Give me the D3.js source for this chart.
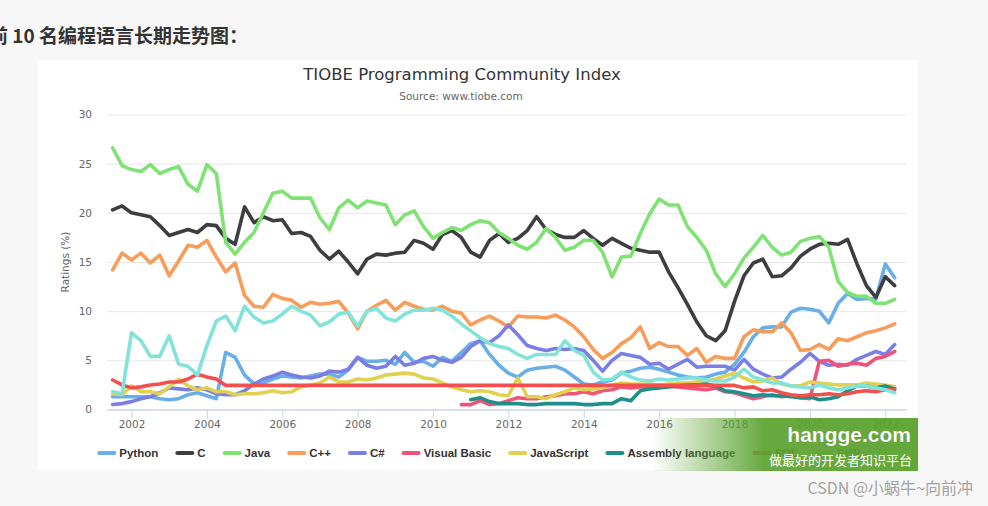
<!DOCTYPE html>
<html lang="zh">
<head>
<meta charset="UTF-8">
<title>TIOBE Programming Community Index</title>
<script src="https://d3js.org/d3.v7.min.js"></script>
<style>
    body { margin: 0; background: #f7f7f7; }
    svg { display: block; }
</style>
</head>
<body>
<script>

// one sample per quarter, from July 2001 up to April 2022
var firstQuarter = 2001.5;
var quarterStep = 0.25;

var languages = ["Python", "C", "Java", "C++", "C#", "Visual Basic",
                 "JavaScript", "Assembly language", "SQL", "PHP"];
var colors = ["#68aee8", "#3d3d42", "#7fe373", "#f89c5a", "#7a7fe6", "#f0537a",
              "#e2d050", "#1f8f8a", "#f24f4f", "#82e3da"];

var python = [1.3, 1.3,
    1.3, 1.3, 1.3, 1.1,  1.0, 1.1, 1.5, 1.7,  1.4, 1.1, 5.8, 5.3,  3.5, 2.6, 2.7, 3.1,
    3.4, 3.3, 3.2, 3.4,  3.6, 3.6, 3.3, 4.0,  5.3, 4.9, 4.9, 5.0,  4.6, 5.8, 4.8, 4.9,
    4.4, 5.3, 4.9, 5.8,  6.7, 7.0, 5.6, 4.5,  3.7, 3.3, 4.0, 4.2,  4.3, 4.4, 4.0, 3.3,
    2.6, 2.5, 2.8, 3.0,  3.7, 3.9, 4.2, 4.3,  4.1, 3.8, 3.5, 3.3,  3.2, 3.3, 3.6, 3.8,
    4.6, 5.8, 7.4, 8.3,  8.4, 8.4, 9.9, 10.3, 10.2, 10.0, 8.8, 10.8, 11.8, 11.2, 11.3, 11.2,
    14.8, 13.4];

var cLang = [20.3, 20.7,
    20.0, 19.8, 19.6, 18.7,  17.7, 18.0, 18.3, 18.0,  18.8, 18.7, 17.4, 16.8,  20.6, 19.0, 19.6, 19.2,
    19.3, 17.9, 18.0, 17.6,  16.2, 15.3, 16.1, 15.0,  13.8, 15.3, 15.8, 15.7,  15.9, 16.0, 17.2, 16.9,
    16.3, 17.8, 18.2, 17.5,  16.0, 15.5, 17.2, 17.9,  17.0, 17.4, 18.2, 19.6,  18.3, 17.8, 17.5, 17.5,
    18.2, 17.4, 16.7, 17.4,  16.9, 16.4, 16.2, 16.0,  16.0, 14.0, 12.4, 10.7,  8.9, 7.5, 7.0, 8.0,
    11.0, 13.6, 14.9, 15.3,  13.5, 13.6, 14.4, 15.6,  16.3, 16.8, 16.9, 16.8,  17.3, 14.8, 12.6, 11.4,
    13.5, 12.6];

var java = [26.6, 24.8,
    24.4, 24.2, 24.9, 24.0,  24.4, 24.7, 22.9, 22.2,  24.9, 24.0, 17.0, 15.8,  17.0, 18.0, 20.0, 22.0,
    22.2, 21.5, 21.5, 21.5,  19.5, 18.3, 20.5, 21.3,  20.5, 21.2, 21.0, 20.8,  18.8, 19.8, 20.2, 18.6,
    17.4, 18.0, 18.5, 18.2,  18.8, 19.2, 19.0, 18.0,  17.4, 16.7, 16.3, 17.0,  18.4, 17.5, 16.2, 16.5,
    17.2, 17.2, 16.0, 13.5,  15.5, 15.6, 17.9, 19.9,  21.4, 20.8, 20.8, 18.6,  17.5, 16.2, 13.8, 12.5,
    13.8, 15.4, 16.5, 17.7,  16.5, 15.7, 16.0, 17.1,  17.4, 17.6, 16.5, 13.0,  11.9, 11.5, 11.5, 10.8,
    10.8, 11.2];

var cpp = [14.2, 15.9,
    15.2, 15.9, 14.9, 15.7,  13.6, 15.1, 16.7, 16.5,  17.2, 15.5, 14.0, 14.9,  11.6, 10.5, 10.4, 11.7,
    11.3, 11.1, 10.4, 10.9,  10.7, 10.8, 11.0, 9.8,  8.2, 10.0, 10.6, 11.1,  10.1, 10.9, 10.5, 10.2,
    10.1, 10.5, 10.0, 9.8,  8.6, 9.1, 9.5, 9.0,  8.4, 9.5, 9.4, 9.4,  9.3, 9.6, 9.1, 8.4,
    7.4, 6.1, 5.2, 5.8,  6.7, 7.3, 8.4, 6.2,  6.8, 6.4, 6.4, 5.5,  6.2, 4.8, 5.4, 5.2,
    5.2, 7.4, 8.1, 7.9,  7.9, 8.8, 7.8, 6.0,  6.1, 6.6, 6.1, 7.2,  7.0, 7.4, 7.8, 8.0,
    8.3, 8.7];

var csharp = [0.5, 0.6,
    0.8, 1.1, 1.3, 1.7,  2.2, 2.1, 2.0, 2.2,  2.0, 1.6, 1.5, 1.5,  1.9, 2.6, 3.1, 3.4,
    3.8, 3.5, 3.3, 3.2,  3.4, 3.9, 3.8, 4.1,  5.3, 4.5, 4.2, 4.4,  5.4, 4.5, 4.7, 5.2,
    5.4, 5.0, 4.8, 5.3,  6.4, 7.0, 6.8, 7.5,  8.6, 7.6, 6.5, 6.2,  6.0, 6.2, 6.1, 6.2,
    6.0, 5.0, 3.9, 5.0,  5.7, 5.5, 5.3, 4.6,  4.7, 4.1, 4.6, 5.1,  4.3, 4.4, 4.4, 4.4,
    4.0, 5.1, 4.1, 3.6,  3.2, 3.3, 4.1, 4.8,  5.7, 4.9, 4.5, 4.6,  4.5, 5.1, 5.5, 5.9,
    5.6, 6.6];

var visualBasic = [null, null,
    null, null, null, null,  null, null, null, null,  null, null, null, null,  null, null, null, null,
    null, null, null, null,  null, null, null, null,  null, null, null, null,  null, null, null, null,
    null, null, null, 0.5,  0.5, 0.9, 0.5, 0.6,  0.9, 1.2, 1.1, 1.1,  1.3, 1.4, 1.6, 1.6,
    1.8, 1.6, 1.9, 2.0,  2.3, 2.2, 2.3, 2.3,  2.5, 2.4, 2.3, 2.2,  2.1, 2.0, 2.2, 1.8,
    1.7, 1.4, 1.1, 1.3,  1.5, 1.3, 1.4, 1.2,  1.1, 4.9, 5.0, 4.4,  4.6, 4.7, 4.5, 5.2,
    5.4, 5.9];

var javascript = [1.6, 1.5,
    2.4, 1.8, 1.8, 1.6,  2.3, 3.1, 2.4, 2.0,  2.2, 1.8, 1.8, 1.5,  1.6, 1.6, 1.7, 1.9,
    1.7, 1.8, 2.3, 2.5,  2.7, 3.3, 2.8, 2.8,  3.1, 3.0, 3.2, 3.5,  3.6, 3.7, 3.6, 3.2,
    3.1, 2.7, 2.3, 2.0,  1.8, 1.9, 1.8, 1.5,  1.4, 3.2, 1.3, 1.3,  1.1, 1.5, 1.8, 2.2,
    2.0, 2.1, 2.2, 2.5,  2.7, 2.6, 2.6, 2.6,  2.5, 2.6, 2.7, 2.7,  2.8, 2.9, 3.1, 3.4,
    3.7, 3.2, 2.8, 2.9,  3.2, 2.6, 2.4, 2.4,  2.8, 2.7, 2.6, 2.5,  2.5, 2.5, 2.7, 2.6,
    2.5, 2.3];

var assembly = [null, null,
    null, null, null, null,  null, null, null, null,  null, null, null, null,  null, null, null, null,
    null, null, null, null,  null, null, null, null,  null, null, null, null,  null, null, null, null,
    null, null, null, null,  1.0, 1.2, 0.8, 0.6,  0.6, 0.6, 0.5, 0.5,  0.6, 0.6, 0.6, 0.6,
    0.5, 0.5, 0.6, 0.6,  1.1, 0.9, 1.9, 2.1,  2.2, 2.3, 2.4, 2.5,  2.5, 2.6, 2.4, 1.9,
    1.8, 1.6, 1.4, 1.5,  1.4, 1.4, 1.3, 1.2,  1.3, 1.0, 1.1, 1.3,  1.9, 2.4, 2.4, 2.2,
    2.4, 2.1];

var sql = [3.0, 2.5,
    2.2, 2.3, 2.5, 2.6,  2.8, 2.8, 3.1, 3.6,  3.3, 3.1, 2.45, null,  null, null, null, null,
    null, null, null, null,  null, null, null, null,  null, null, null, null,  null, null, null, null,
    null, null, null, null,  null, null, null, null,  null, null, null, null,  null, null, null, null,
    null, null, null, null,  null, null, null, null,  null, null, null, null,  null, null, null, null,
    2.45, 2.2, 2.3, 1.9,  2.0, 1.7, 1.5, 1.4,  1.5, 1.5, 1.6, 1.5,  1.6, 1.8, 1.9, 1.8,
    2.0, 2.0];

var php = [1.8, 1.6,
    7.8, 7.0, 5.4, 5.4,  7.5, 4.6, 4.4, 3.5,  6.5, 9.0, 9.5, 8.0,  10.5, 9.4, 8.8, 9.0,
    9.7, 10.5, 10.0, 9.6,  8.5, 8.9, 9.7, 9.9,  8.5, 10.0, 10.3, 9.3,  9.0, 9.7, 10.1, 10.1,
    10.3, 10.1, 9.5, 8.7,  8.0, 7.3, 6.7, 6.4,  6.2, 5.6, 5.2, 5.6,  5.6, 5.6, 7.0, 6.0,
    5.5, 3.8, 3.0, 3.1,  3.8, 3.3, 3.0, 2.9,  3.1, 3.0, 3.1, 3.2,  3.2, 3.0, 2.9, 2.9,
    3.3, 4.1, 3.3, 3.0,  2.7, 2.7, 2.4, 2.3,  2.2, 2.5, 2.2, 2.0,  2.2, 2.4, 2.4, 2.2,
    2.0, 1.7];

var seriesValues = [python, cLang, java, cpp, csharp, visualBasic, javascript, assembly, sql, php];

var yTicks = [0, 5, 10, 15, 20, 25, 30];
var xTicks = [2002, 2004, 2006, 2008, 2010, 2012, 2014, 2016, 2018, 2020, 2022];

//Width and height
var w = 988;
var h = 506;
var chartFont = "'Lucida Grande', 'DejaVu Sans', sans-serif";
var legendFont = "'Liberation Sans', Arial, sans-serif";
var cjkFont = "'Noto Sans CJK SC', sans-serif";

var svg = d3.select("body")
    .append("svg")
    .attr("width", w)
    .attr("height", h);

// page heading, its first character is cut by the left edge
svg.append("text")
    .attr("x", -11)
    .attr("y", 43)
    .attr("font-family", cjkFont)
    .attr("font-size", "19px")
    .attr("font-weight", "bold")
    .attr("fill", "#333")
    .text("前 10 名编程语言长期走势图：");

// white chart card
svg.append("rect")
    .attr("x", 38)
    .attr("y", 60)
    .attr("width", 880)
    .attr("height", 410)
    .attr("fill", "#fff");

svg.append("text")
    .attr("x", 462)
    .attr("y", 80)
    .attr("text-anchor", "middle")
    .attr("font-family", chartFont)
    .attr("font-size", "16.5px")
    .attr("fill", "#333")
    .text("TIOBE Programming Community Index");

svg.append("text")
    .attr("x", 461)
    .attr("y", 100)
    .attr("text-anchor", "middle")
    .attr("font-family", chartFont)
    .attr("font-size", "10.5px")
    .attr("fill", "#666")
    .text("Source: www.tiobe.com");

//Create scale functions
var xScale = d3.scaleLinear()
    .domain([2001.35, 2022.55])
    .range([107, 906]);

var yScale = d3.scaleLinear()
    .domain([0, 30])
    .range([409.5, 114.5]);

// y axis: grid lines and labels
var yAxis = d3.axisLeft(yScale)
    .tickValues(yTicks)
    .tickSize(-(906 - 107))
    .tickPadding(15);

var yG = svg.append("g")
    .attr("transform", "translate(107,0)")
    .call(yAxis);
yG.select(".domain").remove();
yG.selectAll("line").attr("stroke", "#e6e6e6");
yG.selectAll("text")
    .attr("font-family", chartFont)
    .attr("font-size", "10.5px")
    .attr("fill", "#666");

svg.append("text")
    .attr("transform", "translate(69,262) rotate(-90)")
    .attr("text-anchor", "middle")
    .attr("font-family", chartFont)
    .attr("font-size", "10.5px")
    .attr("fill", "#666")
    .text("Ratings (%)");

// x axis
var xAxis = d3.axisBottom(xScale)
    .tickValues(xTicks)
    .tickFormat(d3.format("d"))
    .tickSize(9)
    .tickSizeOuter(0)
    .tickPadding(2);

var xG = svg.append("g")
    .attr("transform", "translate(0,409.5)")
    .call(xAxis);
xG.select(".domain").attr("stroke", "#ccd6eb").attr("stroke-width", 1.5);
xG.selectAll("line").attr("stroke", "#ccd6eb");
xG.selectAll("text")
    .attr("font-family", chartFont)
    .attr("font-size", "10.5px")
    .attr("fill", "#666");

// lines, gaps are bridged like the original chart does
var line = d3.line()
    .x(function (d) { return xScale(d.t); })
    .y(function (d) { return yScale(d.v); });

var series = languages.map(function (name, i) {
    var points = seriesValues[i].map(function (v, k) {
        return { t: firstQuarter + k * quarterStep, v: v };
    }).filter(function (d) { return d.v !== null; });
    return { name: name, color: colors[i], points: points };
});

svg.append("g")
    .selectAll("path")
    .data(series)
    .enter()
    .append("path")
    .attr("d", function (d) { return line(d.points); })
    .attr("fill", "none")
    .attr("stroke", function (d) { return d.color; })
    .attr("stroke-width", 3.6)
    .attr("stroke-linejoin", "round")
    .attr("stroke-linecap", "round");

// legend, one row centred under the plot
var legend = svg.append("g");
var items = legend.selectAll("g")
    .data(series)
    .enter()
    .append("g");

items.append("line")
    .attr("x1", 0)
    .attr("x2", 15)
    .attr("y1", 0)
    .attr("y2", 0)
    .attr("stroke", function (d) { return d.color; })
    .attr("stroke-width", 4)
    .attr("stroke-linecap", "round");

items.append("text")
    .attr("x", 20)
    .attr("y", 4)
    .attr("font-family", legendFont)
    .attr("font-size", "11.5px")
    .attr("font-weight", "bold")
    .attr("fill", "#333")
    .text(function (d) { return d.name; });

var itemGap = 19;
var offsets = [], total = 0;
items.each(function () {
    offsets.push(total);
    total += 20 + d3.select(this).select("text").node().getComputedTextLength() + itemGap;
});
total -= itemGap;
var legendStart = 480 - total / 2;
items.attr("transform", function (d, i) {
    return "translate(" + (legendStart + offsets[i]) + ",453)";
});

// site watermark over the bottom right corner
var defs = svg.append("defs");
var grad = defs.append("linearGradient")
    .attr("id", "wmFade")
    .attr("x1", "0").attr("x2", "1")
    .attr("y1", "0").attr("y2", "0");
grad.append("stop").attr("offset", "0").attr("stop-color", "#5ba22f").attr("stop-opacity", 0);
grad.append("stop").attr("offset", "0.42").attr("stop-color", "#5ba22f").attr("stop-opacity", 0.92);
grad.append("stop").attr("offset", "1").attr("stop-color", "#5ba22f").attr("stop-opacity", 0.95);

svg.append("rect")
    .attr("x", 652)
    .attr("y", 418)
    .attr("width", 266)
    .attr("height", 53)
    .attr("fill", "url(#wmFade)");

svg.append("text")
    .attr("x", 911)
    .attr("y", 442)
    .attr("text-anchor", "end")
    .attr("font-family", legendFont)
    .attr("font-size", "21px")
    .attr("font-weight", "bold")
    .attr("fill", "#fff")
    .attr("stroke", "rgba(0,0,0,0.15)")
    .attr("stroke-width", 0.6)
    .text("hangge.com");

svg.append("text")
    .attr("x", 912)
    .attr("y", 465)
    .attr("text-anchor", "end")
    .attr("font-family", cjkFont)
    .attr("font-size", "13px")
    .attr("fill", "#fff")
    .text("做最好的开发者知识平台");

svg.append("text")
    .attr("x", 973)
    .attr("y", 494)
    .attr("text-anchor", "end")
    .attr("font-family", cjkFont)
    .attr("font-size", "16px")
    .attr("fill", "#a3a3a3")
    .text("CSDN @小蜗牛~向前冲");

</script>
</body>
</html>
